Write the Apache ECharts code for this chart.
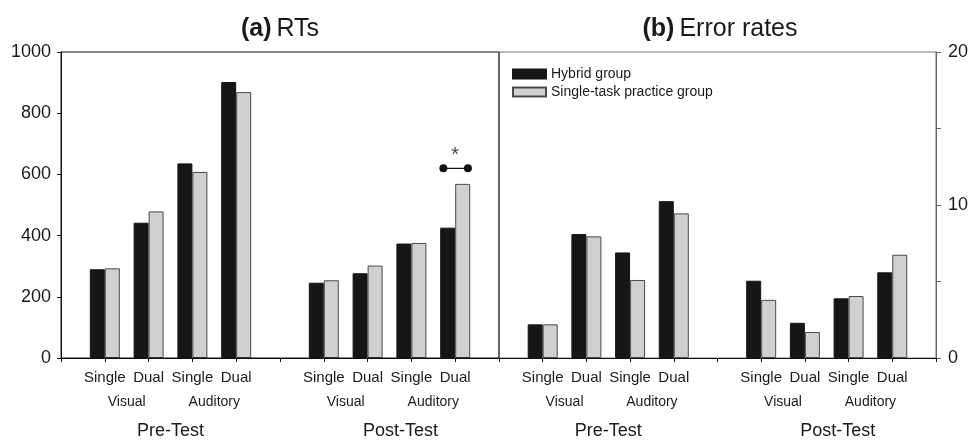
<!DOCTYPE html>
<html>
<head>
<meta charset="utf-8">
<script src="https://cdn.jsdelivr.net/npm/echarts@6/dist/echarts.min.js"></script>
<style>html,body{margin:0;padding:0;background:#fff;}#c{width:971px;height:442px;}</style>
</head>
<body>
<div id="c"></div>
<script>
// ---- data ----
const categories = ['', 'Single', 'Dual', 'Single', 'Dual', '', 'Single', 'Dual', 'Single', 'Dual', ''];
const modalityPositions = [1.5, 3.5, 6.5, 8.5];
const modalityNames = ['Visual', 'Auditory', 'Visual', 'Auditory'];
const phasePositions = [2.5, 7.75];
const phaseNames = ['Pre-Test', 'Post-Test'];
const seriesNames = ['Hybrid group', 'Single-task practice group'];

const rtPreHybrid = [290, 442, 636, 902];
const rtPreSingle = [293, 479, 608, 869];
const rtPostHybrid = [246, 277, 374, 426];
const rtPostSingle = [254, 302, 376, 569];

const errPreHybrid = [2.2, 8.1, 6.9, 10.25];
const errPreSingle = [2.2, 7.95, 5.1, 9.45];
const errPostHybrid = [5.05, 2.3, 3.9, 5.6];
const errPostSingle = [3.8, 1.7, 4.05, 6.75];

const errLabelTicks = [0, 10, 20];

// significance marker (post-test auditory dual)
const sigLine = [[8.73, 620], [9.29, 620]];
const sigStar = [[9.0, 662]];

// ---- helpers ----
function row(pre, post) { return [null].concat(pre, [null], post, [null]); }
function lookup(positions, names) {
  return function (v) {
    for (let i = 0; i < positions.length; i++) if (Math.abs(positions[i] - v) < 1e-6) return names[i];
    return '';
  };
}
const FONT = '"Liberation Sans", Arial, Helvetica, sans-serif';
const TXT = '#1a1a1a';
const blackStyle = { color: '#161616', borderColor: '#161616', borderWidth: 1 };
const grayStyle = { color: '#d0d0d0', borderColor: '#4a4a4a', borderWidth: 1 };

function mainX(gi) {
  return {
    type: 'category', gridIndex: gi, data: categories, boundaryGap: false,
    axisLine: { show: true, onZero: false, lineStyle: { color: '#111', width: 1 } },
    axisTick: { show: true, interval: 0, length: 4, lineStyle: { color: '#111' } },
    axisLabel: { interval: 0, fontSize: 15, color: TXT, fontFamily: FONT, margin: 12 },
    splitLine: { show: false }
  };
}
function labelX(gi, offset, interval, positions, names, size) {
  return {
    type: 'value', gridIndex: gi, min: 0, max: 10, interval: interval, position: 'bottom', offset: offset,
    axisLine: { show: false, onZero: false }, axisTick: { show: false }, splitLine: { show: false },
    axisLabel: { show: true, fontSize: size, color: TXT, fontFamily: FONT, margin: 8,
      showMinLabel: true, showMaxLabel: true, formatter: lookup(positions, names) }
  };
}
function titleOpt(tag, name, x) {
  return { text: '{b|' + tag + '} {n|' + name + '}', left: x, top: 12, textAlign: 'center',
    textStyle: { fontWeight: 'normal', rich: {
      b: { fontSize: 25, fontWeight: 'bold', color: TXT, fontFamily: FONT },
      n: { fontSize: 25, fontWeight: 'normal', color: TXT, fontFamily: FONT } } } };
}

const chart = echarts.init(document.getElementById('c'));
chart.setOption({
  animation: false,
  textStyle: { fontFamily: FONT },
  title: [titleOpt('(a)', 'RTs', 275), titleOpt('(b)', 'Error rates', 715)],
  legend: {
    orient: 'vertical', left: 507, top: 62, itemWidth: 33, itemHeight: 9, itemGap: 4, itemTextGap: 9,
    icon: 'rect', data: seriesNames,
    textStyle: { fontSize: 14, color: TXT, fontFamily: FONT }
  },
  grid: [
    { left: 61, right: 472, top: 52, bottom: 84, show: true, borderColor: '#111', borderWidth: 1, z: 3 },
    { left: 499, right: 35, top: 52, bottom: 84, show: true, borderColor: '#777', borderWidth: 1 }
  ],
  xAxis: [
    mainX(0),
    labelX(0, 29, 0.5, modalityPositions, modalityNames, 14),
    labelX(0, 56, 0.25, phasePositions, phaseNames, 18),
    { type: 'value', gridIndex: 0, min: 0, max: 10, show: false },
    mainX(1),
    labelX(1, 29, 0.5, modalityPositions, modalityNames, 14),
    labelX(1, 56, 0.25, phasePositions, phaseNames, 18)
  ],
  yAxis: [
    { type: 'value', gridIndex: 0, min: 0, max: 1000, interval: 200,
      axisLine: { show: true, onZero: false, lineStyle: { color: '#111' } },
      axisTick: { show: true, length: 4, lineStyle: { color: '#111' } },
      axisLabel: { fontSize: 18, color: TXT, fontFamily: FONT, margin: 10,
        formatter: function (v) { return String(v); } },
      splitLine: { show: false } },
    { type: 'value', gridIndex: 1, min: 0, max: 20, interval: 5, position: 'right',
      axisLine: { show: true, onZero: false, lineStyle: { color: '#666' } },
      axisTick: { show: true, length: 5, lineStyle: { color: '#666' } },
      axisLabel: { fontSize: 18, color: TXT, fontFamily: FONT, margin: 12,
        formatter: function (v) { return errLabelTicks.indexOf(v) >= 0 ? String(v) : ''; } },
      splitLine: { show: false } }
  ],
  series: [
    { name: seriesNames[0], type: 'bar', xAxisIndex: 0, yAxisIndex: 0, barWidth: 15, barGap: '0%',
      itemStyle: blackStyle, data: row(rtPreHybrid, rtPostHybrid) },
    { name: seriesNames[1], type: 'bar', xAxisIndex: 0, yAxisIndex: 0, barWidth: 15, barGap: '0%',
      itemStyle: grayStyle, data: row(rtPreSingle, rtPostSingle) },
    { name: seriesNames[0], type: 'bar', xAxisIndex: 4, yAxisIndex: 1, barWidth: 15, barGap: '0%',
      itemStyle: blackStyle, data: row(errPreHybrid, errPostHybrid) },
    { name: seriesNames[1], type: 'bar', xAxisIndex: 4, yAxisIndex: 1, barWidth: 15, barGap: '0%',
      itemStyle: grayStyle, data: row(errPreSingle, errPostSingle) },
    { type: 'line', xAxisIndex: 3, yAxisIndex: 0, data: sigLine, symbol: 'circle', symbolSize: 8,
      itemStyle: { color: '#111' }, lineStyle: { color: '#111', width: 1.2 }, z: 5, silent: true },
    { type: 'scatter', xAxisIndex: 3, yAxisIndex: 0, data: sigStar, symbolSize: 0, silent: true,
      label: { show: true, position: 'inside', formatter: '*', fontSize: 20, color: '#111', fontFamily: FONT } }
  ]
});
</script>
</body>
</html>
